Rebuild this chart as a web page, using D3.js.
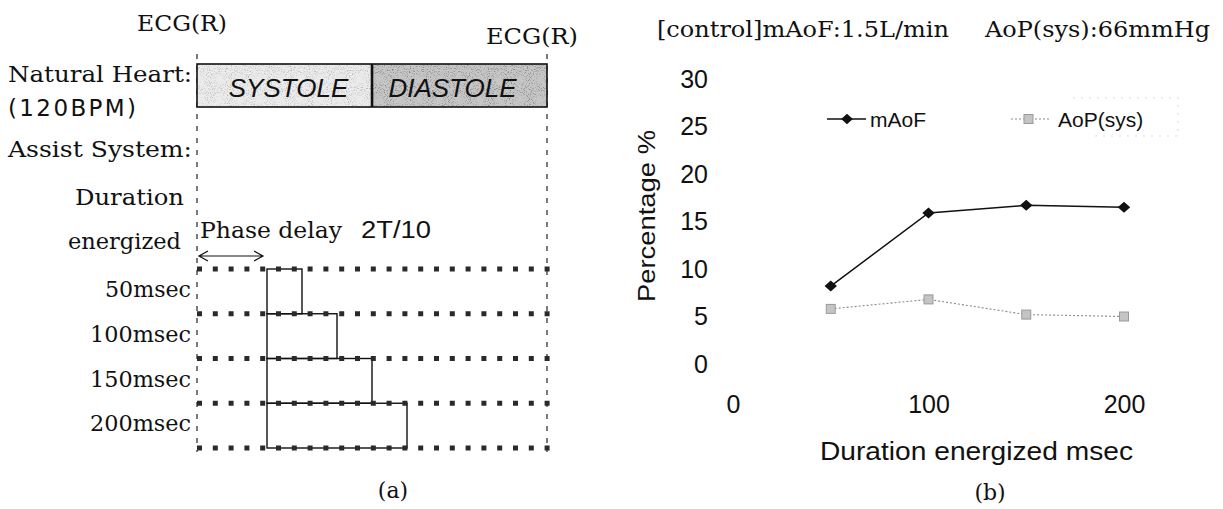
<!DOCTYPE html>
<html>
<head>
<meta charset="utf-8">
<script src="https://cdn.jsdelivr.net/npm/d3@7"></script>
<style>
  html, body { margin: 0; padding: 0; background: #fff; }
  svg { display: block; }
  .serif { font-family: "DejaVu Serif", "Liberation Serif", serif; fill: #111; }
  .sans { font-family: "Liberation Sans", Arial, sans-serif; fill: #111; }
  .gothic { font-family: "DejaVu Sans", "Liberation Sans", sans-serif; fill: #111; }
</style>
</head>
<body>
<script>
// ---- (a) timing diagram ----
const cycleMs = 500;            // one beat at 120 BPM
const systoleMs = 250;
const phaseDelayMs = 100;       // 2T/10
const phaseNames = ["SYSTOLE", "DIASTOLE"];
const pulseDurations = [50, 100, 150, 200];
const pulseLabels = ["50msec", "100msec", "150msec", "200msec"];

// ---- (b) percentage change vs. duration energized ----
const durations = [50, 100, 150, 200];
const mAoF = [8.2, 15.9, 16.7, 16.5];
const aopSys = [5.8, 6.8, 5.2, 5.0];
const yTicks = [0, 5, 10, 15, 20, 25, 30];
const xTicks = [0, 100, 200];
const seriesNames = ["mAoF", "AoP(sys)"];

const W = 1223, H = 509;
const svg = d3.select("body").append("svg").attr("width", W).attr("height", H);

const defs = svg.append("defs");
const grain = defs.append("filter").attr("id", "grain")
  .attr("x", 0).attr("y", 0).attr("width", 1).attr("height", 1);
grain.append("feTurbulence").attr("type", "fractalNoise")
  .attr("baseFrequency", 0.95).attr("numOctaves", 1).attr("seed", 7).attr("result", "n");
grain.append("feColorMatrix").attr("in", "n").attr("type", "matrix")
  .attr("values", "0 0 0 0 0  0 0 0 0 0  0 0 0 0 0  4 0 0 0 -2.1").attr("result", "a");
grain.append("feComposite").attr("in", "a").attr("in2", "SourceGraphic").attr("operator", "in");

// helper for text with a fixed drawn width
function label(g, cls, txt, x, y, size, anchor, len, extra, adjust) {
  const t = g.append("text").attr("class", cls).attr("x", x).attr("y", y)
    .attr("font-size", size).attr("text-anchor", anchor || "start").text(txt);
  if (len) t.attr("textLength", len).attr("lengthAdjust", adjust || "spacingAndGlyphs");
  if (extra) extra(t);
  return t;
}

// ================= panel (a) =================
const A = svg.append("g");
const t = d3.scaleLinear().domain([0, cycleMs]).range([197, 547]);
const row = d3.scaleLinear().domain([0, pulseDurations.length]).range([269, 448]);
const heartTop = 64, heartBot = 107;

// ECG(R) markers
[0, cycleMs].forEach(ms => {
  A.append("line").attr("x1", t(ms)).attr("x2", t(ms)).attr("y1", 54).attr("y2", 452)
    .attr("stroke", "#222").attr("stroke-width", 1.2).attr("stroke-dasharray", "5 7");
});
label(A, "serif", "ECG(R)", t(0) - 60, 31, 22, "start", 90);
label(A, "serif", "ECG(R)", t(cycleMs) - 61, 44, 22, "start", 92);

// natural heart phases
const phases = [[0, systoleMs], [systoleMs, cycleMs]];
const phaseFill = ["#ebebeb", "#c6c6c6"];
phases.forEach((p, i) => {
  A.append("rect").attr("x", t(p[0])).attr("y", heartTop)
    .attr("width", t(p[1]) - t(p[0])).attr("height", heartBot - heartTop)
    .attr("fill", phaseFill[i]);
  A.append("rect").attr("x", t(p[0])).attr("y", heartTop)
    .attr("width", t(p[1]) - t(p[0])).attr("height", heartBot - heartTop)
    .attr("fill", "#000").attr("opacity", i ? 0.35 : 0.22).attr("filter", "url(#grain)");
  label(A, "sans", phaseNames[i], (t(p[0]) + t(p[1])) / 2 + (i ? -7 : 4), 97, 26, "middle", null,
    s => s.attr("font-style", "italic"));
});
A.append("rect").attr("x", t(0)).attr("y", heartTop)
  .attr("width", t(cycleMs) - t(0)).attr("height", heartBot - heartTop)
  .attr("fill", "none").attr("stroke", "#111").attr("stroke-width", 1.6);
A.append("line").attr("x1", t(systoleMs)).attr("x2", t(systoleMs))
  .attr("y1", heartTop).attr("y2", heartBot).attr("stroke", "#111").attr("stroke-width", 2.6);

// row captions
label(A, "serif", "Natural Heart:", 8, 82, 22, "start", 184);
label(A, "gothic", "(120BPM)", 8, 116, 23, "start", 128, null, "spacing");
label(A, "serif", "Assist System:", 8, 157, 22, "start", 184);
label(A, "serif", "Duration", 184, 205, 22, "end", 109);
label(A, "serif", "energized", 181, 249, 22, "end", 113);
label(A, "serif", "Phase delay", t(0) + 3, 238, 22, "start", 142);
label(A, "sans", "2T/10", t(0) + 164, 238, 23, "start", 70);

// phase-delay arrow
const ay = row(0) - 13;
const ax0 = t(0) + 2, ax1 = t(phaseDelayMs) - 4;
A.append("path")
  .attr("d", `M${ax0},${ay}H${ax1} M${ax0 + 9},${ay - 5}L${ax0},${ay}L${ax0 + 9},${ay + 5} M${ax1 - 9},${ay - 5}L${ax1},${ay}L${ax1 - 9},${ay + 5}`)
  .attr("fill", "none").attr("stroke", "#111").attr("stroke-width", 1.2);

// energized pulses
pulseDurations.forEach((d, i) => {
  A.append("rect")
    .attr("x", t(phaseDelayMs)).attr("y", row(i))
    .attr("width", t(d) - t(0)).attr("height", row(i + 1) - row(i))
    .attr("fill", "none").attr("stroke", "#111").attr("stroke-width", 1.4);
  label(A, "serif", pulseLabels[i], 191, row(i) + 28, 22, "end", i ? 101 : 86);
});

// dotted row boundaries
d3.range(pulseDurations.length + 1).forEach(i => {
  A.append("line").attr("x1", t(0)).attr("x2", t(cycleMs) + 3)
    .attr("y1", row(i)).attr("y2", row(i))
    .attr("stroke", "#2a2a2a").attr("stroke-width", 5).attr("stroke-dasharray", "5 10.8");
});

label(A, "serif", "(a)", 393, 498, 22, "middle");

// ================= panel (b) =================
const B = svg.append("g");
const x = d3.scaleLinear().domain([0, 200]).range([733, 1124]);
const y = d3.scaleLinear().domain([0, 30]).range([364, 79]);

label(B, "serif", "[control]mAoF:1.5L/min", 657, 37, 22, "start", 292);
label(B, "serif", "AoP(sys):66mmHg", 985, 37, 22, "start", 225);

// faint legend frame
B.append("path")
  .attr("d", "M1073,98H1178V136H1090")
  .attr("fill", "none").attr("stroke", "#cfcfcf").attr("stroke-width", 0.8)
  .attr("stroke-dasharray", "2 6");

const yAxis = B.append("g").attr("transform", "translate(708,0)")
  .call(d3.axisLeft(y).tickValues(yTicks).tickSize(0).tickPadding(0).tickFormat(d3.format("d")));
const xAxis = B.append("g").attr("transform", "translate(0,395)")
  .call(d3.axisBottom(x).tickValues(xTicks).tickSize(0).tickPadding(0).tickFormat(d3.format("d")));
[yAxis, xAxis].forEach(g => {
  g.select(".domain").remove();
  g.selectAll("text").attr("font-family", "Liberation Sans, Arial, sans-serif")
    .attr("font-size", 25).attr("fill", "#111");
});

label(B, "sans", "Percentage %", 0, 0, 24, "middle", 172,
  s => s.attr("transform", "translate(655,216) rotate(-90)"));
label(B, "sans", "Duration energized msec", 820, 460, 25, "start", 313);
label(B, "serif", "(b)", 990, 500, 22, "middle");

const diamond = {
  draw(ctx, size) {
    const w = Math.sqrt(size) * 0.62, h = Math.sqrt(size) * 0.55;
    ctx.moveTo(0, -h); ctx.lineTo(w, 0); ctx.lineTo(0, h); ctx.lineTo(-w, 0); ctx.closePath();
  }
};
const lineGen = d3.line().x(d => x(d[0])).y(d => y(d[1]));
const mPts = durations.map((d, i) => [d, mAoF[i]]);
const aPts = durations.map((d, i) => [d, aopSys[i]]);

B.append("path").attr("d", lineGen(aPts)).attr("fill", "none")
  .attr("stroke", "#8a8a8a").attr("stroke-width", 1.1).attr("stroke-dasharray", "2 2");
B.selectAll(".aop").data(aPts).join("rect").attr("class", "aop")
  .attr("x", d => x(d[0]) - 4.5).attr("y", d => y(d[1]) - 4.5)
  .attr("width", 9).attr("height", 9)
  .attr("fill", "#c4c4c4").attr("stroke", "#9a9a9a").attr("stroke-width", 1);

B.append("path").attr("d", lineGen(mPts)).attr("fill", "none")
  .attr("stroke", "#111").attr("stroke-width", 1.5);
B.selectAll(".maof").data(mPts).join("path").attr("class", "maof")
  .attr("transform", d => `translate(${x(d[0])},${y(d[1])})`)
  .attr("d", d3.symbol(diamond, 100)()).attr("fill", "#111");

// legend
const ly = 119;
B.append("line").attr("x1", 827).attr("x2", 866).attr("y1", ly).attr("y2", ly)
  .attr("stroke", "#111").attr("stroke-width", 1.5);
B.append("path").attr("transform", `translate(847,${ly})`)
  .attr("d", d3.symbol(diamond, 90)()).attr("fill", "#111");
label(B, "sans", seriesNames[0], 870, ly + 8, 21, "start");

B.append("line").attr("x1", 1011).attr("x2", 1050).attr("y1", ly).attr("y2", ly)
  .attr("stroke", "#8a8a8a").attr("stroke-width", 1.1).attr("stroke-dasharray", "2 2");
B.append("rect").attr("x", 1024).attr("y", ly - 4.5).attr("width", 9).attr("height", 9)
  .attr("fill", "#c4c4c4").attr("stroke", "#9a9a9a");
label(B, "sans", seriesNames[1], 1058, ly + 8, 21, "start");
</script>
</body>
</html>
